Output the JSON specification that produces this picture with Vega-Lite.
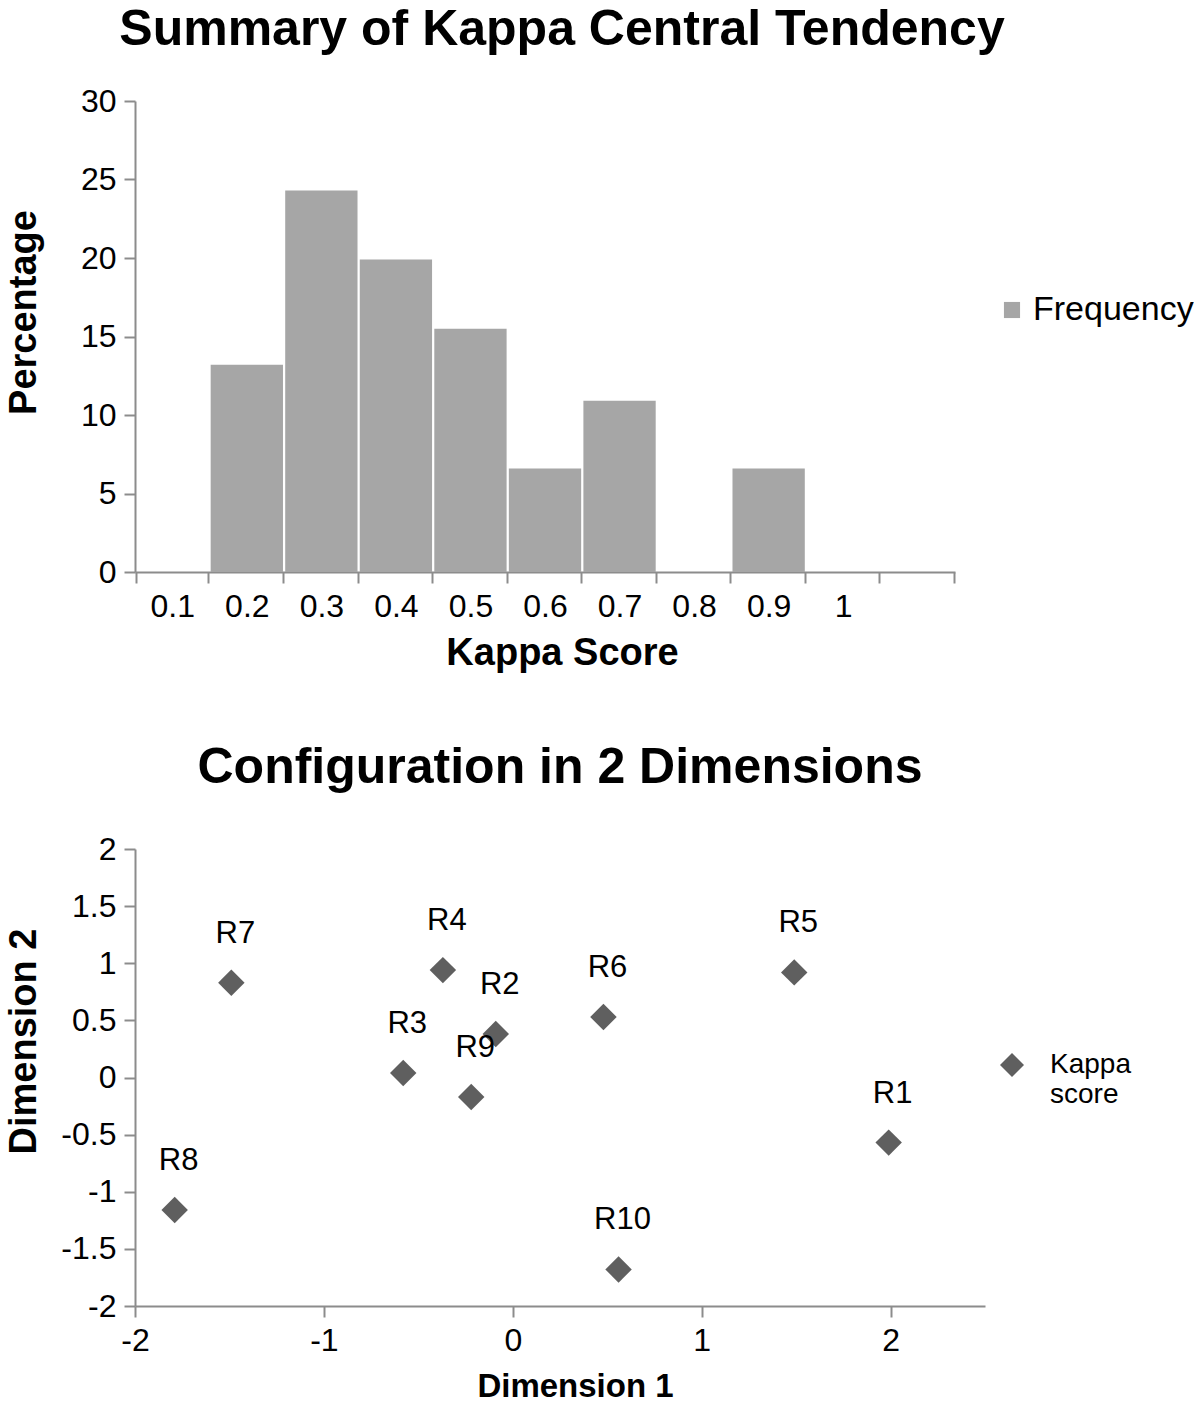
{
  "$schema": "https://vega.github.io/schema/vega-lite/v6.json",
  "padding": {"left": 5, "top": 5, "right": 0, "bottom": 0},
  "background": "white",
  "config": {
    "font": "Liberation Sans",
    "view": {"stroke": null},
    "axis": {
      "grid": false,
      "domainColor": "#8c8c8c",
      "tickColor": "#8c8c8c",
      "domainWidth": 2,
      "tickWidth": 2,
      "tickSize": 11,
      "labelFontSize": 32,
      "labelColor": "#000000",
      "labelFont": "Liberation Sans",
      "labelFlush": false,
      "titleFont": "Liberation Sans",
      "titleFontSize": 38,
      "titleFontWeight": "bold",
      "titleColor": "#000000"
    },
    "title": {"font": "Liberation Sans", "fontSize": 50, "fontWeight": "bold", "color": "#000000", "anchor": "middle"},
    "legend": {"labelFont": "Liberation Sans", "labelColor": "#000000", "title": null, "labelLimit": 400}
  },
  "resolve": {"scale": {"color": "independent", "shape": "independent"}, "legend": {"color": "independent", "shape": "independent"}},
  "spacing": 71,
  "vconcat": [
    {
      "title": {"text": "Summary of Kappa Central Tendency", "dx": 17, "offset": 30},
      "width": 820,
      "height": 471,
      "data": {"values": [
        {"kappa": "0.1", "pct": 0, "series": "Frequency"},
        {"kappa": "0.2", "pct": 13.2, "series": "Frequency"},
        {"kappa": "0.3", "pct": 24.3, "series": "Frequency"},
        {"kappa": "0.4", "pct": 19.9, "series": "Frequency"},
        {"kappa": "0.5", "pct": 15.5, "series": "Frequency"},
        {"kappa": "0.6", "pct": 6.6, "series": "Frequency"},
        {"kappa": "0.7", "pct": 10.9, "series": "Frequency"},
        {"kappa": "0.8", "pct": 0, "series": "Frequency"},
        {"kappa": "0.9", "pct": 6.6, "series": "Frequency"},
        {"kappa": "1", "pct": 0, "series": "Frequency"}
      ]},
      "mark": {"type": "bar"},
      "encoding": {
        "x": {
          "field": "kappa",
          "type": "ordinal",
          "sort": null,
          "scale": {"domain": ["0.1", "0.2", "0.3", "0.4", "0.5", "0.6", "0.7", "0.8", "0.9", "1", "blank"], "paddingInner": 0.03, "paddingOuter": 0.015},
          "axis": {
            "title": "Kappa Score",
            "labelAngle": 0,
            "tickBand": "extent",
            "labelPadding": 8,
            "titlePadding": 12,
            "titleX": 427,
            "labelExpr": "datum.value == 'blank' ? '' : datum.value"
          }
        },
        "y": {
          "field": "pct",
          "type": "quantitative",
          "scale": {"domain": [0, 30]},
          "axis": {"title": "Percentage", "values": [0, 5, 10, 15, 20, 25, 30], "labelPadding": 8, "titleX": -92, "titleY": 211, "titleBaseline": "bottom"}
        },
        "color": {
          "field": "series",
          "type": "nominal",
          "scale": {"range": ["#a6a6a6"]},
          "legend": {"orient": "none", "legendX": 860, "legendY": 192, "symbolType": "square", "symbolSize": 260, "labelFontSize": 34, "symbolStrokeWidth": 0}
        }
      }
    },
    {
      "title": {"text": "Configuration in 2 Dimensions", "offset": 40},
      "width": 850,
      "height": 457,
      "data": {"values": [
        {"label": "R1", "d1": 1.99, "d2": -0.57, "series": "Kappa score"},
        {"label": "R2", "d1": -0.09, "d2": 0.38, "series": "Kappa score"},
        {"label": "R3", "d1": -0.58, "d2": 0.04, "series": "Kappa score"},
        {"label": "R4", "d1": -0.37, "d2": 0.94, "series": "Kappa score"},
        {"label": "R5", "d1": 1.49, "d2": 0.92, "series": "Kappa score"},
        {"label": "R6", "d1": 0.48, "d2": 0.53, "series": "Kappa score"},
        {"label": "R7", "d1": -1.49, "d2": 0.83, "series": "Kappa score"},
        {"label": "R8", "d1": -1.79, "d2": -1.16, "series": "Kappa score"},
        {"label": "R9", "d1": -0.22, "d2": -0.17, "series": "Kappa score"},
        {"label": "R10", "d1": 0.56, "d2": -1.68, "series": "Kappa score"}
      ]},
      "layer": [
        {
          "mark": {"type": "point", "shape": "diamond", "filled": true, "size": 700, "opacity": 1},
          "encoding": {
            "x": {
              "field": "d1",
              "type": "quantitative",
              "scale": {"domain": [-2, 2.5], "nice": false, "zero": false},
              "axis": {"title": "Dimension 1", "values": [-2, -1, 0, 1, 2], "labelExpr": "datum.value + ''", "labelPadding": 8, "titleFontSize": 33, "titlePadding": 14, "titleX": 440}
            },
            "y": {
              "field": "d2",
              "type": "quantitative",
              "scale": {"domain": [-2, 2], "nice": false, "zero": false},
              "axis": {"title": "Dimension 2", "values": [-2, -1.5, -1, -0.5, 0, 0.5, 1, 1.5, 2], "labelExpr": "datum.value + ''", "labelPadding": 8, "titleX": -92, "titleY": 192, "titleBaseline": "bottom"}
            },
            "color": {
              "field": "series",
              "type": "nominal",
              "scale": {"range": ["#5f5f5f"]},
              "legend": {
                "orient": "none",
                "legendX": 863,
                "legendY": 202,
                "symbolType": "diamond",
                "symbolSize": 576,
                "labelFontSize": 28,
                "labelOffset": 24,
                "labelExpr": "split(datum.label, ' ')",
                "encode": {"labels": {"update": {"lineHeight": {"value": 35}}}}
              }
            }
          }
        },
        {
          "mark": {"type": "text", "fontSize": 31, "dx": 4, "dy": -49, "color": "#000000", "font": "Liberation Sans"},
          "encoding": {
            "x": {"field": "d1", "type": "quantitative"},
            "y": {"field": "d2", "type": "quantitative"},
            "text": {"field": "label"}
          }
        }
      ]
    }
  ]
}
